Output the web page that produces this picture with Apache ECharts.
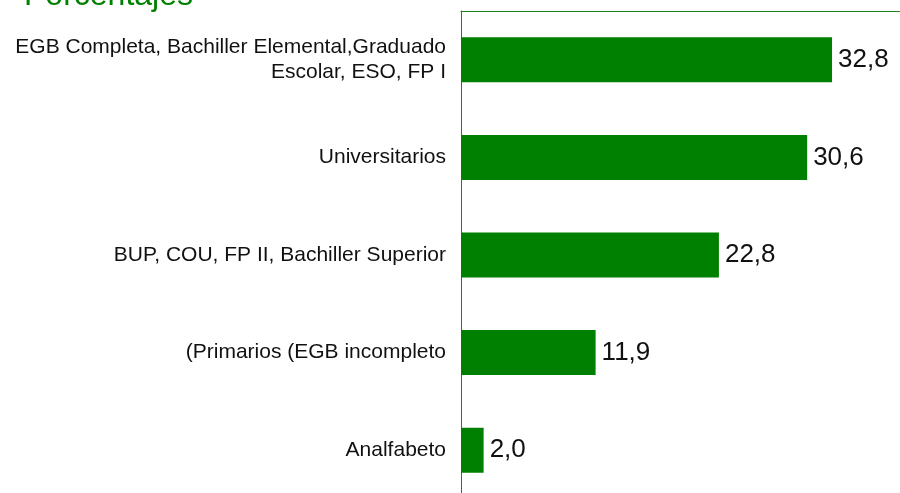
<!DOCTYPE html>
<html>
<head>
<meta charset="utf-8">
<script src="https://cdn.jsdelivr.net/npm/echarts@6/dist/echarts.min.js"></script>
<style>html,body{margin:0;padding:0;background:#fff;}#c{width:900px;height:493px;}</style>
</head>
<body>
<div id="c"></div>
<script>
const categories = [
  "EGB Completa, Bachiller Elemental,Graduado\nEscolar, ESO, FP I",
  "Universitarios",
  "BUP, COU, FP II, Bachiller Superior",
  "(Primarios (EGB incompleto",
  "Analfabeto"
];
const values = [32.8, 30.6, 22.8, 11.9, 2.0];
const titleText = "Porcentajes";

const chart = echarts.init(document.getElementById('c'));
chart.setOption({
  animation: false,
  backgroundColor: '#fff',
  graphic: [{
    type: 'text', left: 24, top: -20,
    style: { text: titleText, fill: '#008000', font: '32px "Liberation Sans", Arial, sans-serif' }
  }],
  grid: { left: 461, top: 11, width: 452.5, height: 488, containLabel: false, outerBoundsMode: 'none' },
  xAxis: {
    type: 'value', position: 'top', min: 0, max: 40,
    axisLine: { show: true, lineStyle: { color: '#1a841a', width: 1 } },
    axisTick: { show: false }, axisLabel: { show: false }, splitLine: { show: false }
  },
  yAxis: {
    type: 'category', data: categories, inverse: true,
    axisLine: { show: true, lineStyle: { color: '#1a841a', width: 1 } },
    axisTick: { show: false },
    axisLabel: {
      margin: 15, color: '#111', fontSize: 21, lineHeight: 25, align: 'right',
      fontFamily: '"Liberation Sans", Arial, sans-serif'
    }
  },
  series: [{
    type: 'bar', data: values, barWidth: 45,
    itemStyle: { color: '#008000' },
    label: {
      show: true, position: 'right', distance: 6, color: '#111', fontSize: 26,
      fontFamily: '"Liberation Sans", Arial, sans-serif',
      formatter: p => p.value.toFixed(1).replace('.', ',')
    }
  }]
});
</script>
</body>
</html>
